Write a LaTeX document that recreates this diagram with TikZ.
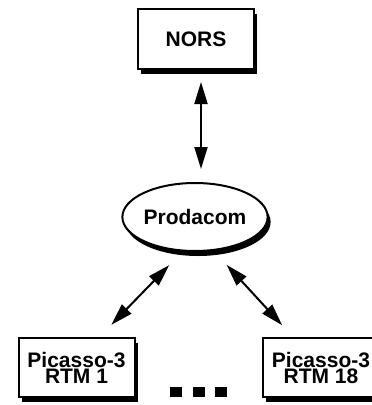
\documentclass[tikz,border=0pt]{standalone}
\usepackage{fontspec}
\setmainfont{Liberation Sans}
\usetikzlibrary{shapes.geometric,shadows,arrows.meta,calc}
\begin{document}
\begin{tikzpicture}[x=1pt,y=-1pt,
  shade/.style={drop shadow={shadow xshift=3pt,shadow yshift=-5pt,opacity=1,fill=black}},
  unit/.style={draw,line width=2pt,fill=white,shade,inner sep=0pt,align=center,
    minimum width=116pt,minimum height=59pt,
    font=\bfseries\fontsize{21}{16}\selectfont},
  hub/.style={unit,ellipse,minimum width=136pt,minimum height=68pt},
  dot/.style={fill=black,inner sep=0pt,minimum width=11.5pt,minimum height=10pt},
  link/.style={line width=2pt,{Triangle[length=22pt,width=13pt]}-{Triangle[length=22pt,width=13pt]}}]
\useasboundingbox (0,0) rectangle (372,405);
% nodes
\node[unit,minimum height=60pt] (nors) at (196,39) {NORS};
\node[hub] (prod) at (195,217) {Prodacom};
\node[unit] (rtm1) at (76.5,367.5) {Picasso-3\\RTM 1};
\node[unit] (rtm18) at (321,367.5) {Picasso-3\\RTM 18};
\node[dot] (d1) at (176,392) {};
\node[dot] (d2) at (199,392) {};
\node[dot] (d3) at (221,392) {};
% links
\draw[link,shorten <=12pt,shorten >=13pt] ([xshift=5pt]nors.south) -- ([xshift=5pt]nors.south |- prod.north);
\draw[link,shorten <=19pt,shorten >=17pt] (prod.250) -- ($(rtm1.north)+(23,0)$);
\draw[link,shorten <=19pt,shorten >=16pt] (prod.299) -- ($(rtm18.north)+(-28,0)$);
\end{tikzpicture}
\end{document}
